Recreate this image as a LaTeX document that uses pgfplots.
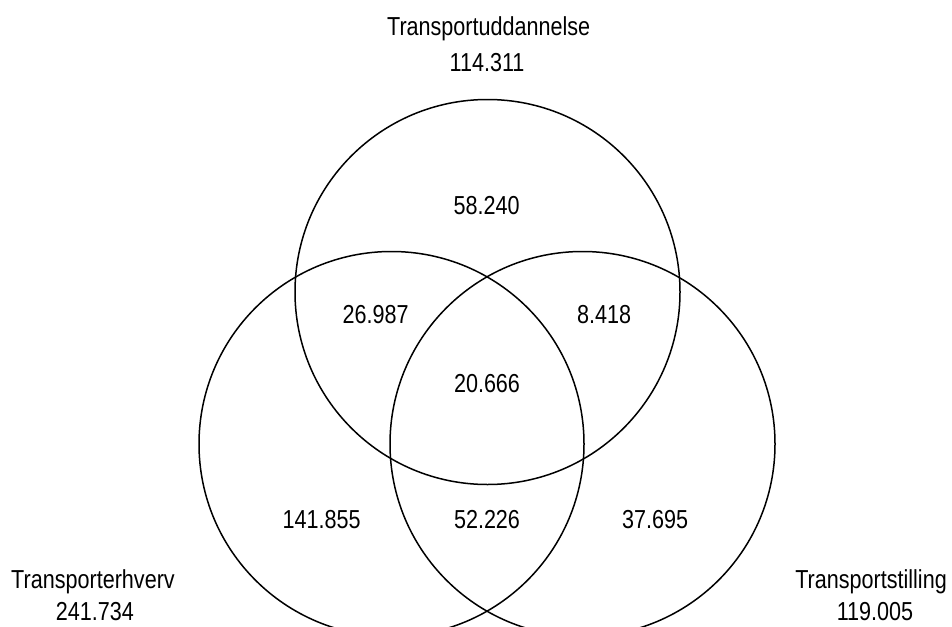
\documentclass[border=0pt]{standalone}
\usepackage{pgfplots}
\pgfplotsset{compat=1.18}
\usepackage{pgfplotstable}
\usepackage{fontspec}
\setmainfont{Liberation Sans}[FakeStretch=0.83]

\pgfplotstableread{
cx cy
487.5 292
391.5 444
582.5 444
}\circles

\pgfplotstableread{
x y label
488.7 36 Transportuddannelse
487 71.5 114.311
486.7 214 58.240
375.7 323 26.987
604 323 8.418
487 392 20.666
321.7 528 141.855
487 528 52.226
655 528 37.695
93 588 Transporterhverv
95 620 241.734
871 588 Transportstilling
875 620 119.005
}\labels

\begin{document}
\begin{tikzpicture}
\begin{axis}[
  x=1pt, y=1pt,
  xmin=0, xmax=952, ymin=0, ymax=626,
  y dir=reverse,
  hide axis,
  clip marker paths=true,
]
\addplot[only marks, mark=o, mark size=192.5pt,
  mark options={line width=1.5pt, draw=black}] table[x=cx, y=cy] {\circles};
\addplot[only marks, mark=none, point meta=explicit symbolic,
  nodes near coords,
  nodes near coords style={anchor=base, inner sep=0pt,
    font=\fontsize{26}{30}\selectfont, text=black}]
  table[x=x, y=y, meta=label] {\labels};
\end{axis}
\pgfresetboundingbox
\path[use as bounding box] (current axis.south west) rectangle (current axis.north east);
\end{tikzpicture}
\end{document}
